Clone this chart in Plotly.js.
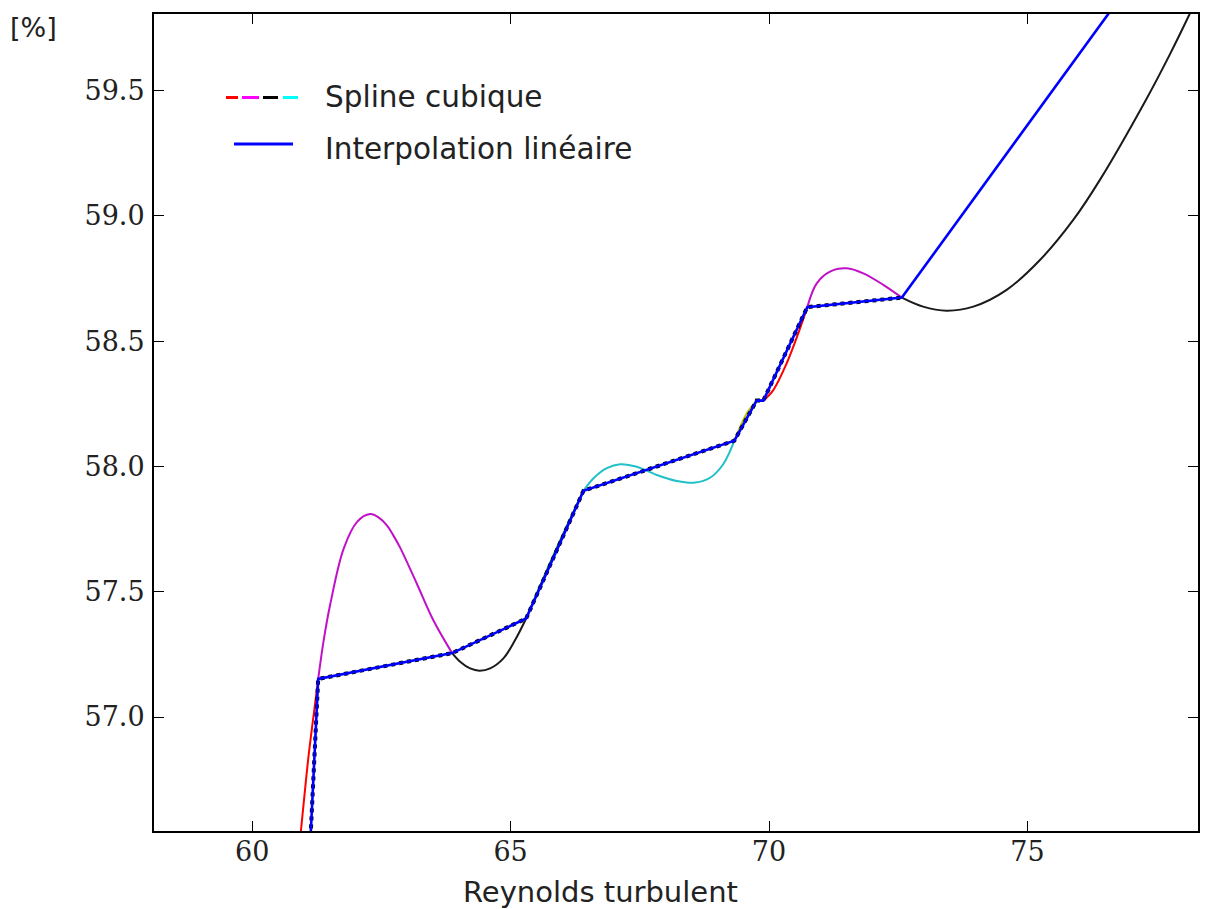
<!DOCTYPE html>
<html>
<head>
<meta charset="utf-8">
<script src="https://cdn.plot.ly/plotly-3.0.1.min.js"></script>
<style>html,body{margin:0;padding:0;background:#fff;}#chart{width:1208px;height:909px;}</style>
</head>
<body>
<div id="chart"></div>
<script>
// Linear interpolation knots
const knotX = [61.10, 61.277, 63.868, 65.30, 66.41, 69.33, 69.76, 69.89, 70.74, 72.57, 80.0];
const knotY = [56.396, 57.152, 57.255, 57.393, 57.903, 58.103, 58.263, 58.263, 58.636, 58.674, 60.78];

// Cubic spline pieces
const splineRedAX = [60.90, 60.942, 61.015, 61.089, 61.19, 61.277];
const splineRedAY = [56.46, 56.545, 56.695, 56.842, 57.01, 57.152];
const splineMagAX = [61.277, 61.38, 61.51, 61.77, 62.03, 62.28, 62.45, 62.61, 62.73, 62.86, 63.19, 63.51, 63.868];
const splineMagAY = [57.152, 57.302, 57.450, 57.672, 57.779, 57.810, 57.796, 57.764, 57.725, 57.677, 57.530, 57.384, 57.255];
const splineBlkAX = [63.868, 64.023, 64.217, 64.397, 64.604, 64.861, 65.087, 65.30];
const splineBlkAY = [57.255, 57.221, 57.194, 57.185, 57.194, 57.234, 57.307, 57.393];
const splineGrnX = [65.30, 65.85, 66.41];
const splineGrnY = [57.393, 57.655, 57.903];
const splineCyaX = [66.41, 66.60, 66.861, 67.118, 67.441, 67.828, 68.215, 68.536, 68.859, 69.116, 69.33];
const splineCyaY = [57.903, 57.952, 57.993, 58.009, 57.999, 57.966, 57.942, 57.935, 57.955, 58.010, 58.103];
const splineYelX = [69.33, 69.57, 69.76];
const splineYelY = [58.103, 58.212, 58.263];
const splineBluX = [69.76, 69.89];
const splineBluY = [58.263, 58.263];
const splineRedBX = [69.89, 70.083, 70.342, 70.567, 70.74];
const splineRedBY = [58.263, 58.305, 58.412, 58.532, 58.636];
const splineMagBX = [70.74, 70.923, 71.180, 71.503, 71.824, 72.211, 72.57];
const splineMagBY = [58.636, 58.731, 58.778, 58.791, 58.771, 58.725, 58.674];
const splineBlkBX = [72.57, 72.98, 73.437, 73.952, 74.598, 75.242, 75.886, 76.402, 77.305, 77.756, 78.129, 78.60];
const splineBlkBY = [58.674, 58.638, 58.622, 58.638, 58.705, 58.824, 58.984, 59.144, 59.468, 59.645, 59.802, 60.01];

const segs = [
  [splineRedAX, splineRedAY, '#ff0000'],
  [splineMagAX, splineMagAY, '#c010c8'],
  [splineBlkAX, splineBlkAY, '#1a1a1a'],
  [splineGrnX, splineGrnY, '#008000'],
  [splineCyaX, splineCyaY, '#20c0c8'],
  [splineYelX, splineYelY, '#bfbf00'],
  [splineBluX, splineBluY, '#0000ff'],
  [splineRedBX, splineRedBY, '#ff0000'],
  [splineMagBX, splineMagBY, '#c010c8'],
  [splineBlkBX, splineBlkBY, '#1a1a1a']
];

const traces = segs.map(s => ({
  x: s[0], y: s[1], type: 'scatter', mode: 'lines',
  line: {color: s[2], width: 2, shape: 'spline', smoothing: 1},
  showlegend: false, hoverinfo: 'skip'
}));

// black dashed linear underneath (up to knot I)
traces.push({
  x: knotX.slice(0, 10), y: knotY.slice(0, 10), type: 'scatter', mode: 'lines',
  line: {color: '#000000', width: 4, dash: '4px,4px'}, showlegend: false, hoverinfo: 'skip'
});
traces.push({
  x: knotX, y: knotY, type: 'scatter', mode: 'lines',
  line: {color: '#0000ff', width: 2.6}, showlegend: false, hoverinfo: 'skip'
});

const L = 154, R = 1198, T = 14, B = 831;
const px = v => (v - L) / (R - L);
const py = v => (B - v) / (B - T);

const legendDashes = [[226, 238, '#ff0000'], [242, 259, '#ff00ff'], [263, 278, '#000000'], [283, 298, '#00ffff']];
const shapes = legendDashes.map(d => ({
  type: 'line', xref: 'paper', yref: 'paper',
  x0: px(d[0]), x1: px(d[1]), y0: py(97.5), y1: py(97.5),
  line: {color: d[2], width: 3}
}));
shapes.push({type: 'line', xref: 'paper', yref: 'paper',
  x0: px(234), x1: px(293), y0: py(144), y1: py(144), line: {color: '#0000ff', width: 3}});

const sans = 'DejaVu Sans, sans-serif';
const layout = {
  width: 1208, height: 909,
  margin: {l: L, r: 1208 - R, t: T, b: 909 - B},
  paper_bgcolor: '#ffffff', plot_bgcolor: '#ffffff',
  showlegend: false,
  xaxis: {
    range: [58.10, 78.30], tick0: 60, dtick: 5, tickmode: 'linear',
    showgrid: false, zeroline: false, showline: true, linecolor: '#000', linewidth: 2,
    mirror: 'ticks', ticks: 'inside', ticklen: 10, tickwidth: 1, tickcolor: '#000',
    tickfont: {family: 'DejaVu Serif, serif', size: 27, color: '#222'},
    ticklabelstandoff: -4
  },
  yaxis: {
    range: [56.545, 59.806], tick0: 57, dtick: 0.5, tickmode: 'linear', tickformat: '.1f',
    showgrid: false, zeroline: false, showline: true, linecolor: '#000', linewidth: 2,
    mirror: 'ticks', ticks: 'inside', ticklen: 10, tickwidth: 1, tickcolor: '#000',
    tickfont: {family: 'DejaVu Serif, serif', size: 27, color: '#222'},
    ticklabelstandoff: 2
  },
  shapes: shapes,
  annotations: [
    {text: 'Spline cubique', xref: 'paper', yref: 'paper', x: px(323), y: py(97), xanchor: 'left', yanchor: 'middle', showarrow: false, font: {family: sans, size: 29.5, color: '#222'}},
    {text: 'Interpolation linéaire', xref: 'paper', yref: 'paper', x: px(323), y: py(149), xanchor: 'left', yanchor: 'middle', showarrow: false, font: {family: sans, size: 29.5, color: '#222'}},
    {text: 'Reynolds turbulent', xref: 'paper', yref: 'paper', x: px(600), y: py(892), xanchor: 'center', yanchor: 'middle', showarrow: false, font: {family: sans, size: 29, color: '#222'}},
    {text: '[%]', xref: 'paper', yref: 'paper', x: px(8), y: py(28), xanchor: 'left', yanchor: 'middle', showarrow: false, font: {family: sans, size: 27, color: '#222'}}
  ]
};

Plotly.newPlot('chart', traces, layout, {displayModeBar: false, staticPlot: true});
</script>
</body>
</html>
